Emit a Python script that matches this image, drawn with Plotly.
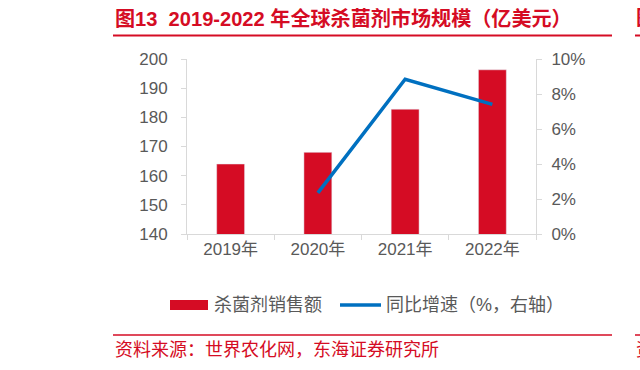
import plotly.graph_objects as go

years = ["2019年", "2020年", "2021年", "2022年"]
sales = [164.0, 168.0, 182.8, 196.3]
growth_years = ["2020年", "2021年", "2022年"]
growth = [0.0235, 0.0884, 0.0741]

title_text = "图13  2019-2022 年全球杀菌剂市场规模（亿美元）"
source_text = "资料来源：世界农化网，东海证券研究所"
bar_name = "杀菌剂销售额"
line_name = "同比增速（%，右轴）"

RED = "#D50C24"
BLUE = "#0070C0"
GRAY = "#595959"
AX = "#D9D9D9"
FONT = "Liberation Sans, Arial, Noto Sans CJK SC, sans-serif"

L, R, T, B = 187, 104, 59, 136
W, H = 640, 370
PW, PH = W - L - R, H - T - B


def px(x):
    return (x - L) / PW


def py(y):
    return (H - B - y) / PH


fig = go.Figure()
fig.add_trace(go.Bar(x=years, y=sales, name=bar_name, marker_color=RED,
                     showlegend=False))
fig.add_trace(go.Scatter(x=growth_years, y=growth, name=line_name, yaxis="y2",
                         mode="lines", line=dict(color=BLUE, width=3.5),
                         showlegend=False))

shapes = [
    dict(type="line", xref="paper", yref="paper", x0=px(113), x1=px(612),
         y0=py(35.5), y1=py(35.5), line=dict(color=RED, width=2)),
    dict(type="line", xref="paper", yref="paper", x0=px(635), x1=px(660),
         y0=py(35.5), y1=py(35.5), line=dict(color=RED, width=2)),
    dict(type="line", xref="paper", yref="paper", x0=px(113), x1=px(612),
         y0=py(335), y1=py(335), line=dict(color=RED, width=1.5)),
    dict(type="line", xref="paper", yref="paper", x0=px(635), x1=px(660),
         y0=py(335), y1=py(335), line=dict(color=RED, width=1.5)),
    # legend symbols
    dict(type="rect", xref="paper", yref="paper", x0=px(170), x1=px(208),
         y0=py(300), y1=py(310), fillcolor=RED, line=dict(width=0)),
    dict(type="line", xref="paper", yref="paper", x0=px(340), x1=px(381),
         y0=py(305), y1=py(305), line=dict(color=BLUE, width=3.5)),
]

annotations = [
    dict(text="<b>" + title_text + "</b>", xref="paper", yref="paper",
         x=px(113), y=py(18), xanchor="left", yanchor="middle", showarrow=False,
         font=dict(size=20.1, color=RED, family=FONT)),
    dict(text="<b>图14</b>", xref="paper", yref="paper",
         x=px(634), y=py(18), xanchor="left", yanchor="middle", showarrow=False,
         font=dict(size=20.1, color=RED, family=FONT)),
    dict(text=source_text, xref="paper", yref="paper",
         x=px(113), y=py(350), xanchor="left", yanchor="middle", showarrow=False,
         font=dict(size=18, color=RED, family=FONT)),
    dict(text="资料", xref="paper", yref="paper",
         x=px(634), y=py(350), xanchor="left", yanchor="middle", showarrow=False,
         font=dict(size=18, color=RED, family=FONT)),
    dict(text=bar_name, xref="paper", yref="paper",
         x=px(212), y=py(305), xanchor="left", yanchor="middle", showarrow=False,
         font=dict(size=18, color=GRAY, family=FONT)),
    dict(text=line_name, xref="paper", yref="paper",
         x=px(384), y=py(305), xanchor="left", yanchor="middle", showarrow=False,
         font=dict(size=18, color=GRAY, family=FONT)),
]

fig.update_layout(
    width=W, height=H,
    margin=dict(l=L, r=R, t=T, b=B, pad=0),
    paper_bgcolor="white", plot_bgcolor="white",
    font=dict(family=FONT, size=17, color=GRAY),
    bargap=0.68,
    showlegend=False,
    shapes=shapes,
    annotations=annotations,
    xaxis=dict(showline=True, linecolor=AX, linewidth=1, ticks="outside",
               tickson="boundaries", ticklen=5, tickcolor=AX, showgrid=False,
               tickfont=dict(size=17, color=GRAY)),
    yaxis=dict(range=[140, 200], dtick=10, showline=True, linecolor=AX,
               linewidth=1, ticks="outside", ticklen=5, tickcolor=AX,
               showgrid=False, zeroline=False, ticklabelstandoff=10,
               tickfont=dict(size=17, color=GRAY)),
    yaxis2=dict(range=[0, 0.10], dtick=0.02, tickformat=".0%", overlaying="y",
                side="right", showline=True, linecolor=AX, linewidth=1,
                ticks="outside", ticklen=5, tickcolor=AX, showgrid=False,
                zeroline=False, ticklabelstandoff=6,
                tickfont=dict(size=17, color=GRAY)),
)

fig.write_html("out.html",
               config={"displayModeBar": False},
               post_script="document.body.style.margin='0';"
                           "document.body.style.overflow='hidden';")
